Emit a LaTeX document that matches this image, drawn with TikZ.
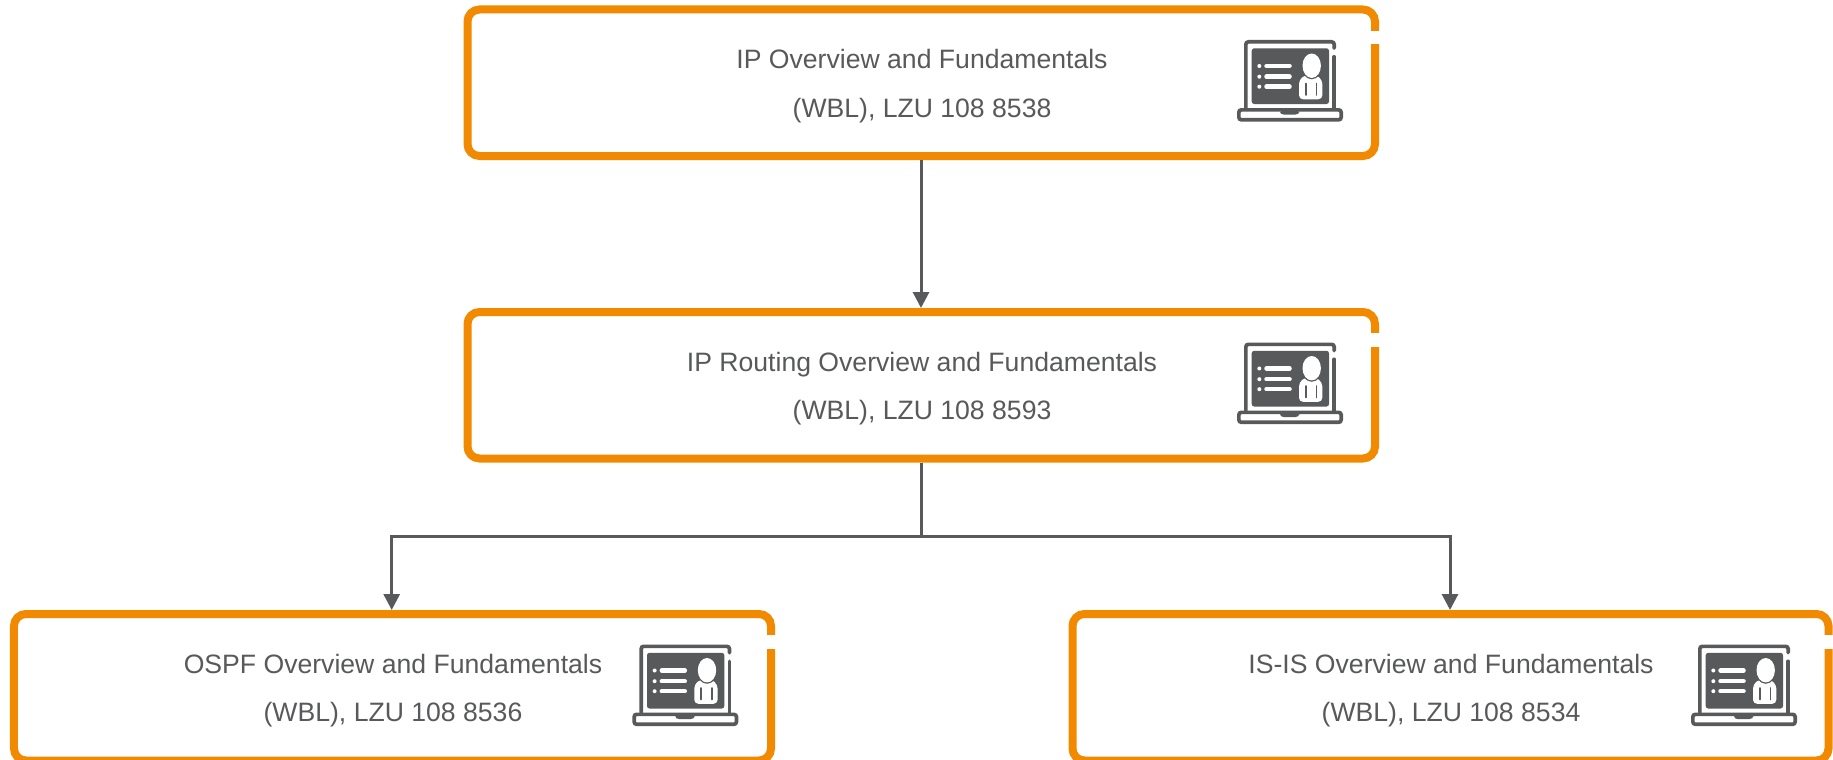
\documentclass[tikz,border=0pt]{standalone}
\usepackage{fontspec}
\setmainfont{Liberation Sans}
\usetikzlibrary{arrows.meta}
\definecolor{brandorange}{HTML}{F18A00}
\definecolor{slategray}{HTML}{58595B}
\tikzset{
  x=1bp,y=-1bp,
  coursebox/.style={draw=brandorange,line width=8bp,rounded corners=12bp,fill=white,minimum height=146.5bp,inner sep=0pt},
  boxgap/.style={fill=white,draw=none,minimum width=12bp,minimum height=13.4bp,inner sep=0pt},
  label/.style={text=slategray,font=\fontsize{26.6bp}{30bp}\selectfont,anchor=base,inner sep=0pt},
  link/.style={draw=slategray,line width=3bp},
  linkarrow/.style={link,-{Triangle[length=16bp,width=16bp]}},
  laptop/.pic={
    \draw[slategray,line width=3.7bp,rounded corners=2.5bp,fill=white] (1.85,69.85) rectangle (104.15,79.8);
    \draw[slategray,line width=3.7bp,line cap=round,rounded corners=2.5bp] (8.85,68) -- (8.85,1.85) -- (97.15,1.85) -- (97.15,8.2);
    \draw[slategray,line width=3.7bp,line cap=round] (97.15,16.8) -- (97.15,68);
    \fill[slategray,rounded corners=1.5bp] (43,71) -- (62.3,71) -- (62.3,73) -- (60,74.5) -- (45,74.5) -- (43,73) -- cycle;
    \fill[slategray,rounded corners=2.5bp] (14.7,8.3) rectangle (92,64);
    \fill[white] (22.3,26) circle[radius=2bp] (22.3,36.7) circle[radius=2bp] (22.3,46.7) circle[radius=2bp];
    \draw[white,line width=4.5bp,line cap=round] (29.5,26) -- (52.5,26) (29.5,36.7) -- (52.5,36.7) (29.5,46.7) -- (52.5,46.7);
    \fill[white,rounded corners=4bp] (62,59.3) -- (62,40) -- (68,35) -- (79.3,35) -- (85.3,40) -- (85.3,59.3) -- cycle;
    \draw[slategray,line width=1.5bp] (74.7,25.7) ellipse[x radius=9.8bp,y radius=12.8bp];
    \fill[white] (74.7,25.7) ellipse[x radius=9.2bp,y radius=12.2bp];
    \draw[slategray,line width=1.8bp,line cap=round] (69,43.5) -- (69,55) (79.5,43.5) -- (79.5,55);
  }
}
\begin{document}
\begin{tikzpicture}
\useasboundingbox (0,0) rectangle (1833,760);
% boxes
\node[coursebox,minimum width=907.5bp] (b1) at (921.25,82.75) {};
\node[coursebox,minimum width=907.5bp] (b2) at (921.25,385.25) {};
\node[coursebox,minimum width=757bp] (b3) at (392.5,687.25) {};
\node[coursebox,minimum width=756bp] (b4) at (1450.5,687.25) {};
% openings in the right-hand edge
\node[boxgap] (g1) at (1375,37.3) {};
\node[boxgap] (g2) at (1375,339.8) {};
\node[boxgap] (g3) at (771,642) {};
\node[boxgap] (g4) at (1828.5,642) {};
% labels
\node[label] (t1a) at (922,69) {IP Overview and Fundamentals};
\node[label] (t1b) at (922,117) {(WBL), LZU 108 8538};
\node[label] (t2a) at (922,371) {IP Routing Overview and Fundamentals};
\node[label] (t2b) at (922,419) {(WBL), LZU 108 8593};
\node[label] (t3a) at (393,673) {OSPF Overview and Fundamentals};
\node[label] (t3b) at (393,721) {(WBL), LZU 108 8536};
\node[label] (t4a) at (1451,673) {IS-IS Overview and Fundamentals};
\node[label] (t4b) at (1451,721) {(WBL), LZU 108 8534};
% icons
\pic at (1237,40) {laptop};
\pic at (1237,342.5) {laptop};
\pic at (632.3,644.5) {laptop};
\pic at (1691,644.5) {laptop};
% connectors
\coordinate (busC) at (921,536.5);
\coordinate (busL) at (391.7,536.5);
\coordinate (busR) at (1450,536.5);
\draw[linkarrow] (b1.south -| busC) -- (b2.north -| busC);
\draw[link] (b2.south -| busC) -- (busC);
\draw[linkarrow] (busC) -- (busL) -- (busL |- b3.north);
\draw[linkarrow] (busC) -- (busR) -- (busR |- b4.north);
\end{tikzpicture}
\end{document}
